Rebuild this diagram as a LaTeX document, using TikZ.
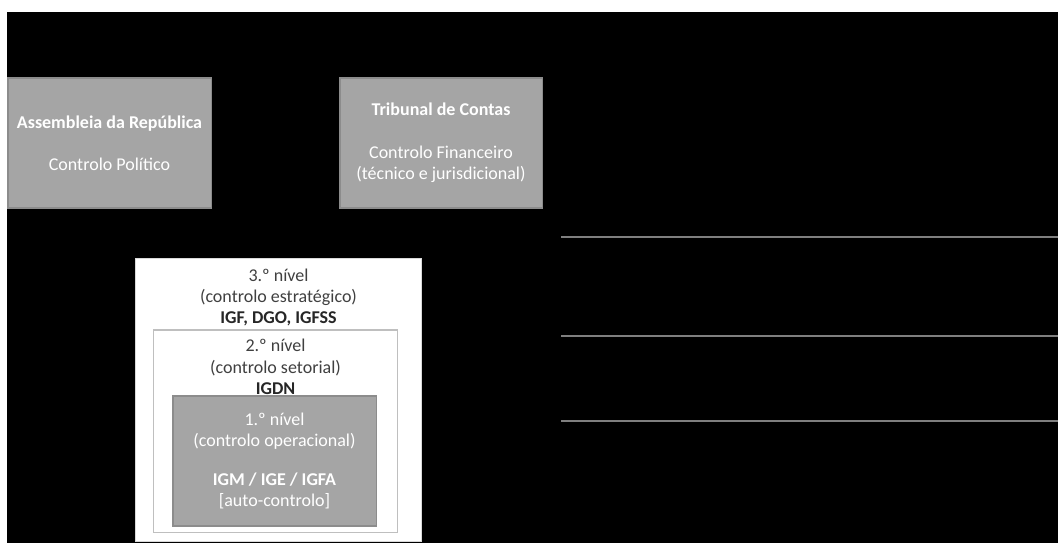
\documentclass[tikz,border=0pt]{standalone}
\usepackage{fontspec}
\setmainfont{Carlito}
\usepackage{xcolor}
\usepackage{tikz}
\usetikzlibrary{positioning}
\definecolor{caixa}{HTML}{A5A5A5}
\definecolor{bordo}{HTML}{8C8C8C}
\definecolor{linha}{HTML}{7F7F7F}
\definecolor{escuro}{HTML}{404040}
\tikzstyle{orgao} = [rectangle, fill=caixa, draw=bordo, line width=0.75pt, text=white, align=center, inner sep=0pt, outer sep=0pt, font=\fontsize{12.8}{15.1}\selectfont]
\tikzstyle{nivel} = [rectangle, fill=white, line width=0.75pt, inner sep=0pt, outer sep=0pt]
\tikzstyle{rotulo} = [align=center, inner sep=0pt, text=escuro, font=\fontsize{12.8}{15.1}\selectfont]
\tikzstyle{divisoria} = [draw=linha, line width=0.9pt]

\begin{document}
\begin{tikzpicture}
		[x=0.025cm, y=-0.025cm]
		\useasboundingbox (0,0) rectangle (1058,543);
		\fill[white] (0,0) rectangle (1058,543);
		\fill[black] (7,12) rectangle (1058,543);
		
		\node[orgao, minimum width=5.075cm, minimum height=3.25cm] (assembleia) at (109.5,143)
		{\textbf{Assembleia da República}\\[15.1pt]Controlo Político};
		\node[orgao, minimum width=5.05cm, minimum height=3.25cm] (tribunal) at (441,143)
		{\textbf{Tribunal de Contas}\\[15.1pt]Controlo Financeiro\\(técnico e jurisdicional)};
		
		\node[nivel, draw=black!15, minimum width=7.125cm, minimum height=7.05cm] (nivel3) at (278.5,400) {};
		\node[rotulo, below=0.24cm of nivel3.north] (texto3)
		{3.º nível\\(controlo estratégico)\\\textbf{\color{black!85}IGF, DGO, IGFSS}};
		\node[nivel, draw=black!25, minimum width=6.075cm, minimum height=5.05cm] (nivel2) at (275.5,431) {};
		\node[rotulo, below=0.23cm of nivel2.north] (texto2)
		{2.º nível\\(controlo setorial)\\\textbf{\color{black!85}IGDN}};
		\node[orgao, minimum width=5.075cm, minimum height=3.25cm] (nivel1) at (274.5,461)
		{1.º nível\\(controlo operacional)\\[12pt]\textbf{IGM / IGE / IGFA}\\{[auto-controlo]}};
		
		\coordinate (l1a) at (561,237); \coordinate (l1b) at (1058,237);
		\coordinate (l2a) at (561,336); \coordinate (l2b) at (1058,336);
		\coordinate (l3a) at (561,421); \coordinate (l3b) at (1058,421);
		\draw[divisoria] (l1a) -- (l1b);
		\draw[divisoria] (l2a) -- (l2b);
		\draw[divisoria] (l3a) -- (l3b);
		\end{tikzpicture}
\end{document}
